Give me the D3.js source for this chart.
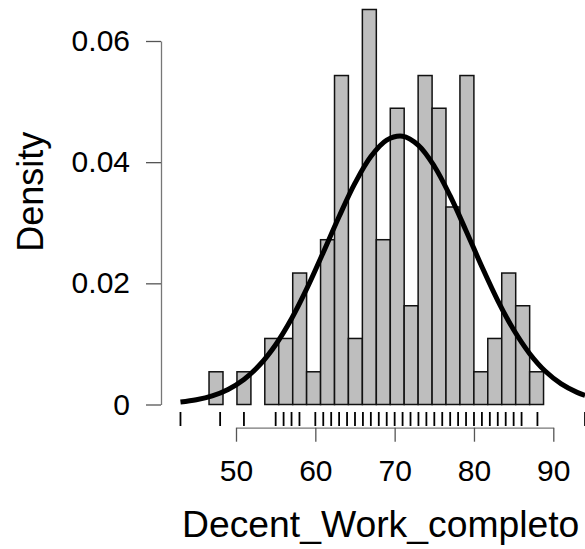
<!DOCTYPE html>
<html>
<head>
<meta charset="utf-8">
<script src="https://cdn.jsdelivr.net/npm/d3@7"></script>
<style>
  html, body { margin: 0; padding: 0; background: #fff; }
  svg { display: block; }
  text { font-family: "Liberation Sans", Arial, sans-serif; fill: #000; }
</style>
</head>
<body>
<svg id="chart" width="585" height="549"></svg>
<script>
// ---- data ----
const binEdges = [43.09, 44.85, 46.60, 48.36, 50.12, 51.88, 53.63, 55.39, 57.15, 58.90,
  60.66, 62.42, 64.17, 65.93, 67.69, 69.45, 71.20, 72.96, 74.72, 76.47,
  78.23, 79.99, 81.74, 83.50, 85.26, 87.02, 88.77, 90.53, 92.29];
const binDensity = [0, 0, 0.0054, 0, 0.0054, 0, 0.0109, 0.0109, 0.0217, 0.0054,
  0.0272, 0.0543, 0.0109, 0.0652, 0.0272, 0.0489, 0.0163, 0.0543, 0.0489, 0.0326,
  0.0543, 0.0054, 0.0109, 0.0217, 0.0163, 0.0054, 0, 0];
const rugValues = [43, 48, 51, 55, 56, 57, 58, 60, 61, 62, 63, 64, 65, 66, 67, 68, 69, 70,
  71, 72, 73, 74, 75, 76, 77, 78, 79, 80, 81, 82, 83, 84, 85, 86, 88, 94];
const curveX = [43, 45, 47, 49, 51, 53, 55, 57, 59, 61, 63, 65, 67, 69, 71, 73, 75, 77,
  79, 81, 83, 85, 87, 89, 91, 93, 94];
const curveY = [0.00040, 0.00078, 0.00142, 0.00249, 0.00414, 0.00655, 0.00987, 0.01415,
  0.01932, 0.02510, 0.03103, 0.03653, 0.04092, 0.04363, 0.04428, 0.04278, 0.03933,
  0.03443, 0.02868, 0.02274, 0.01716, 0.01233, 0.00843, 0.00548, 0.00340, 0.00200, 0.00151];
const xTicks = [50, 60, 70, 80, 90];
const yTicks = [0, 0.02, 0.04, 0.06];
const yTickLabels = ["0", "0.02", "0.04", "0.06"];
const xTitle = "Decent_Work_completo";
const yTitle = "Density";

// ---- drawing ----
const svg = d3.select("#chart");
const x = d3.scaleLinear().domain([50, 90]).range([236, 553.3]);
const y = d3.scaleLinear().domain([0, 0.06]).range([404.5, 41]);

const bins = binDensity.map((d, i) => ({x0: binEdges[i], x1: binEdges[i + 1], d}));

svg.append("g").selectAll("rect").data(bins).join("rect")
  .attr("x", b => x(b.x0))
  .attr("y", b => y(b.d))
  .attr("width", b => x(b.x1) - x(b.x0))
  .attr("height", b => y(0) - y(b.d))
  .attr("fill", "#bebebe")
  .attr("stroke", "#111")
  .attr("stroke-width", 1.5);

// density curve
const pts = curveX.map((v, i) => [v, curveY[i]]);
svg.append("path")
  .datum(pts)
  .attr("d", d3.line().x(p => x(p[0])).y(p => y(p[1])).curve(d3.curveCatmullRom))
  .attr("fill", "none")
  .attr("stroke", "#000")
  .attr("stroke-width", 5);

// rug
svg.append("g").selectAll("line").data(rugValues).join("line")
  .attr("x1", v => x(v)).attr("x2", v => x(v))
  .attr("y1", 412).attr("y2", 426)
  .attr("stroke", "#000")
  .attr("stroke-width", 1.8);

// y axis
const yAxis = svg.append("g")
  .attr("transform", "translate(161,0)")
  .call(d3.axisLeft(y).tickValues(yTicks)
    .tickFormat((d, i) => yTickLabels[i])
    .tickSize(15).tickSizeOuter(0).tickPadding(16));
yAxis.select(".domain").attr("stroke", "#777").attr("stroke-width", 1.3);
yAxis.selectAll(".tick line").attr("stroke", "#555").attr("stroke-width", 1.3);
yAxis.selectAll(".tick text")
  .style("font-family", "'Liberation Sans', Arial, sans-serif")
  .attr("font-size", 30).attr("fill", "#000");

// x axis
const xAxis = svg.append("g")
  .attr("transform", "translate(0,427.7)")
  .call(d3.axisBottom(x).tickValues(xTicks)
    .tickFormat(d3.format("d"))
    .tickSize(14).tickSizeOuter(0).tickPadding(18));
xAxis.select(".domain").attr("stroke", "#777").attr("stroke-width", 1.3);
xAxis.selectAll(".tick line").attr("stroke", "#555").attr("stroke-width", 1.3);
xAxis.selectAll(".tick text")
  .style("font-family", "'Liberation Sans', Arial, sans-serif")
  .attr("font-size", 30).attr("fill", "#000");

// titles
svg.append("text")
  .attr("x", 182).attr("y", 537)
  .attr("font-size", 37.3)
  .text(xTitle);

svg.append("text")
  .attr("transform", "translate(43,191.7) rotate(-90)")
  .attr("text-anchor", "middle")
  .attr("font-size", 36)
  .text(yTitle);
</script>
</body>
</html>
